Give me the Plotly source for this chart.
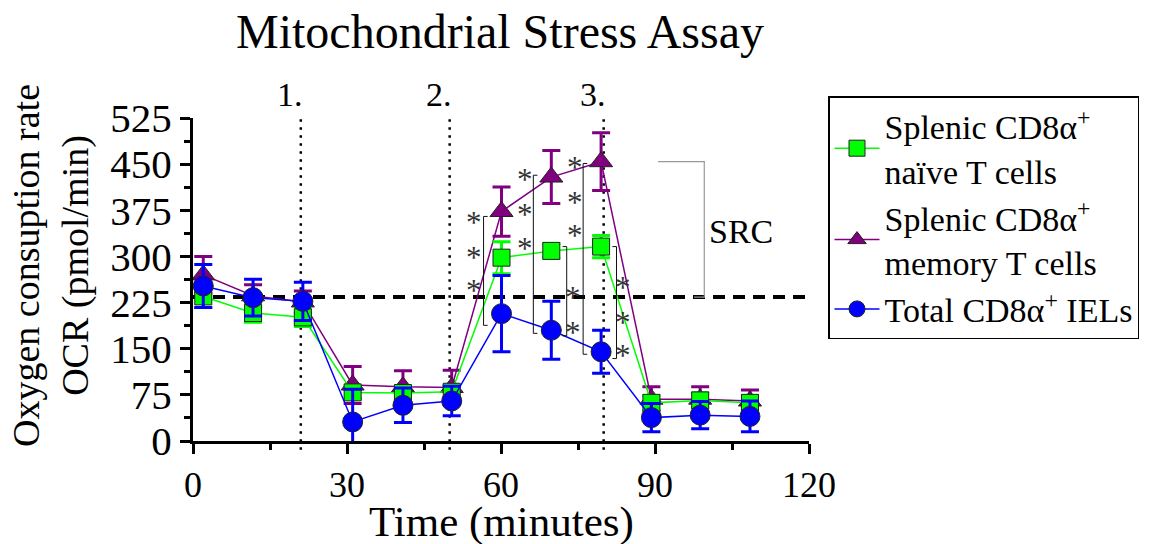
import plotly.graph_objects as go

# ---- data ----
time_min = [2.0, 11.7, 21.4, 31.1, 40.9, 50.4, 60.1, 69.8, 79.5, 89.3, 98.8, 108.5]

naive_ocr = [235, 208, 201, 79, 78, 80, 298, 309, 316, 62, 66, 62]
naive_err = [18, 15, 15, 10, 10, 10, 26, 12, 18, 12, 12, 12]

memory_ocr = [270, 236, 226, 91, 88, 87, 373, 429, 454, 68, 68, 65]
memory_err = [30, 18, 18, 30, 26, 28, 40, 43, 47, 20, 20, 18]

iel_ocr = [252, 233, 227, 31, 58, 65, 207, 180, 145, 38, 42, 40]
iel_err = [35, 30, 31, 53, 28, 24, 62, 47, 35, 23, 22, 25]

injection_times = [21, 50, 80]
injection_labels = ["1.", "2.", "3."]
baseline_ocr = 234

# significance brackets: (x, y_low, y_high, tick direction)
brackets = [(56.6, 188, 365, 1), (66.3, 175, 432, 1), (72.8, 171, 316, -1),
            (76.0, 141, 451, 1), (82.5, 134, 316, -1)]
asterisk_x = [54.8, 54.8, 54.8, 64.7, 64.7, 64.7, 74.0, 74.0, 74.4, 74.4, 74.4, 83.8, 83.8, 83.8]
asterisk_y = [365, 308, 255, 435, 378, 322, 243, 186, 455, 397, 343, 259, 202, 149]

# SRC bracket
src_x = [90.6, 99.6]
src_y = [454, 234]

FONT = "Liberation Serif, Times New Roman, serif"

# page offset compensation (body margin)
OFF = 8
W, H = 1156 - OFF, 544 - OFF
L, T, PW, PH = 193 - OFF, 118 - OFF, 616, 323

def px_x(p):  # absolute reference pixel -> paper x
    return (p - 193) / PW

def px_y(p):  # absolute reference pixel -> paper y
    return (441 - p) / PH

fig = go.Figure()

def add_series(name, y, err, color, symbol, size, rank):
    fig.add_trace(go.Scatter(
        x=time_min, y=y, name=name, mode="lines+markers",
        line=dict(color=color, width=1.5),
        marker=dict(symbol=symbol, size=size, color=color,
                    line=dict(color="#222222", width=1)),
        error_y=dict(type="data", array=err, visible=True, color=color,
                     thickness=3, width=9),
        legendrank=rank, cliponaxis=False,
    ))

add_series("Splenic CD8α<sup>+</sup><br>memory T cells", memory_ocr, memory_err,
           "#800080", "triangle-up", 20, 2)
add_series("Splenic CD8α<sup>+</sup><br>naïve T cells", naive_ocr, naive_err,
           "#00FF00", "square", 17, 1)
add_series("Total CD8α<sup>+</sup> IELs", iel_ocr, iel_err,
           "#0000FF", "circle", 20, 3)

shapes = []
shapes.append(dict(type="line", xref="x", yref="y", x0=0, x1=120,
                   y0=baseline_ocr, y1=baseline_ocr, layer="below",
                   line=dict(color="black", width=4, dash="12px,8px")))
for t in injection_times:
    shapes.append(dict(type="line", xref="x", yref="paper", x0=t, x1=t,
                       y0=-0.027, y1=1.0, layer="below",
                       line=dict(color="black", width=2.5, dash="2.5px,5.5px")))
for bx, ylo, yhi, d in brackets:
    shapes.append(dict(type="path", xref="x", yref="y",
                       path=f"M {bx + 0.8*d} {yhi} L {bx} {yhi} L {bx} {ylo} L {bx + 0.8*d} {ylo}",
                       line=dict(color="#111111", width=1)))
shapes.append(dict(type="path", xref="x", yref="y",
                   path=f"M {src_x[0]} {src_y[0]} L {src_x[1]} {src_y[0]} L {src_x[1]} {src_y[1]} L {src_x[1]-2} {src_y[1]}",
                   line=dict(color="#999999", width=1.2)))

annotations = []
for t, lab in zip(injection_times, injection_labels):
    annotations.append(dict(x=t, y=px_y(94), xref="x", yref="paper", text=lab, showarrow=False,
                            xanchor="right", yanchor="middle", xshift=4,
                            font=dict(family=FONT, size=34, color="black")))
for ax_, ay_ in zip(asterisk_x, asterisk_y):
    annotations.append(dict(x=ax_, y=ay_, xref="x", yref="y", text="*", showarrow=False,
                            xanchor="center", yanchor="middle", yshift=-6,
                            font=dict(family=FONT, size=31, color="#333333")))
annotations.append(dict(x=106.8, y=341, xref="x", yref="y", text="SRC", showarrow=False,
                        xanchor="center", yanchor="middle",
                        font=dict(family=FONT, size=34, color="black")))
annotations.append(dict(x=60, y=px_y(522), xref="x", yref="paper", text="Time (minutes)",
                        showarrow=False, xanchor="center", yanchor="middle",
                        font=dict(family=FONT, size=43, color="black")))
annotations.append(dict(x=px_x(51), y=px_y(266), xref="paper", yref="paper",
                        text="Oxygen consuption rate<br>OCR (pmol/min)", textangle=-90,
                        showarrow=False, xanchor="center", yanchor="middle",
                        font=dict(family=FONT, size=38, color="black")))

fig.update_layout(
    width=W, height=H,
    margin=dict(l=L, r=W - L - PW, t=T, b=H - T - PH, autoexpand=False, pad=0),
    paper_bgcolor="white", plot_bgcolor="white",
    font=dict(family=FONT, color="black"),
    title=dict(text="Mitochondrial Stress Assay", x=(500 - OFF) / W, xanchor="center",
               xref="container", y=1 - (31 - OFF) / H, yref="container", yanchor="middle",
               font=dict(family=FONT, size=48, color="black")),
    xaxis=dict(range=[0, 120], tickvals=[0, 30, 60, 90, 120], showgrid=False, zeroline=False,
               showline=True, linecolor="black", linewidth=3, ticks="outside",
               ticklen=10, tickwidth=2.5, tickcolor="black",
               tickfont=dict(family=FONT, size=36, color="black"),
               minor=dict(tickvals=[15, 45, 75, 105], ticks="outside", ticklen=6,
                          tickwidth=2.5, tickcolor="black")),
    yaxis=dict(range=[0, 525], tickvals=[0, 75, 150, 225, 300, 375, 450, 525],
               showgrid=False, zeroline=False,
               showline=True, linecolor="black", linewidth=3, ticks="outside",
               ticklen=10, tickwidth=2.5, tickcolor="black",
               tickfont=dict(family=FONT, size=41, color="black"),
               minor=dict(tickvals=[37.5, 112.5, 187.5, 262.5, 337.5, 412.5, 487.5],
                          ticks="outside", ticklen=6, tickwidth=2.5, tickcolor="black")),
    legend=dict(x=px_x(828), y=px_y(96), xanchor="left", yanchor="top",
                bordercolor="black", borderwidth=1.5, bgcolor="white",
                font=dict(family=FONT, size=34, color="black"), valign="middle",
                tracegroupgap=0, itemwidth=45),
    shapes=shapes, annotations=annotations, showlegend=True,
)

fig.write_html("out.html")
